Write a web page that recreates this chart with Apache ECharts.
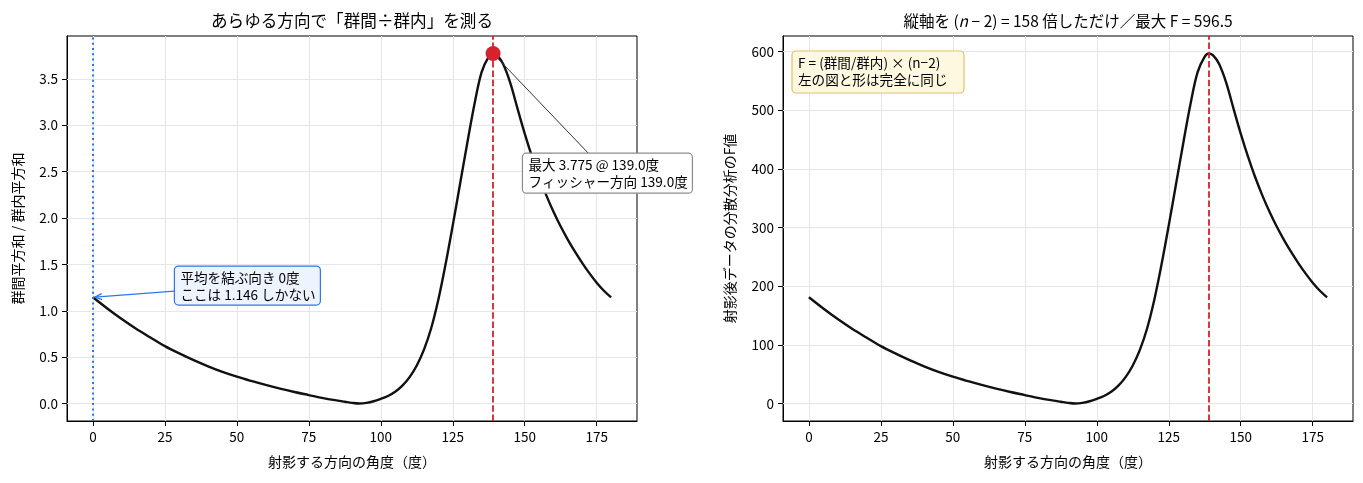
<!DOCTYPE html>
<html lang="ja">
<head>
<meta charset="UTF-8"/>
<title>群間÷群内</title>
<script src="https://cdn.jsdelivr.net/npm/echarts@6/dist/echarts.min.js"></script>
<style>
    html, body { margin: 0; padding: 0; background: #fff; }
    #main { width: 1363px; height: 483px; }
</style>
</head>
<body>
<div id="main"></div>
<script type="text/javascript">
    // 角度（度）と 群間平方和/群内平方和 の比
    var angles = [0, 5, 10, 15, 20, 25, 30, 35, 40, 45, 50, 55, 60, 65, 70, 75, 80, 85,
        87.5, 90, 92.5, 95, 97.5, 100, 102.5, 105, 107.5, 110, 112.5, 115, 117.5, 120,
        122.5, 125, 127.5, 130, 132.5, 135, 137.5, 139, 140.5, 142.5, 145, 147.5, 150,
        152.5, 155, 157.5, 160, 162.5, 165, 167.5, 170, 172.5, 175, 177.5, 180];
    var ratio = [1.146, 1.025, 0.911, 0.807, 0.712, 0.620, 0.541, 0.468, 0.402, 0.342,
        0.290, 0.244, 0.201, 0.161, 0.125, 0.092, 0.059, 0.032,
        0.020, 0.008, 0.001, 0.008, 0.025, 0.051, 0.082, 0.127, 0.193, 0.285, 0.411, 0.582,
        0.812, 1.122, 1.502, 1.922, 2.362, 2.802, 3.222, 3.572, 3.742, 3.775, 3.752, 3.661,
        3.456, 3.180, 2.911, 2.665, 2.443, 2.245, 2.068, 1.909, 1.766, 1.635, 1.515, 1.404,
        1.304, 1.217, 1.146];

    var angleTicks = [0, 25, 50, 75, 100, 125, 150, 175];
    var ratioTicks = [0, 0.5, 1.0, 1.5, 2.0, 2.5, 3.0, 3.5];
    var fTicks = [0, 100, 200, 300, 400, 500, 600];

    var N_MINUS_2 = 158;
    var PEAK_ANGLE = 139.0, PEAK_RATIO = 3.775;
    var START_RATIO = 1.146;

    var FONT = '"Noto Sans CJK JP", "Noto Sans", sans-serif';
    var RED = '#d7222e', BLUE = '#2d77ea';

    var fValues = ratio.map(function (v) { return v * N_MINUS_2; });

    function pad(lo, hi) {
        var p = (hi - lo) * 0.05;
        return [lo - p, hi + p];
    }
    var xr = pad(0, 180);
    var yr0 = pad(Math.min.apply(null, ratio), Math.max.apply(null, ratio));
    var yr1 = pad(Math.min.apply(null, fValues), Math.max.apply(null, fValues));

    function pairs(ys) {
        return angles.map(function (a, i) { return [a, ys[i]]; });
    }

    function xAxis(idx) {
        return {
            type: 'value', gridIndex: idx, min: xr[0], max: xr[1],
            name: '射影する方向の角度（度）', nameLocation: 'middle', nameGap: 34,
            nameTextStyle: {fontSize: 14, color: '#000', fontFamily: FONT},
            axisLine: {onZero: false, lineStyle: {color: '#000', width: 1}},
            axisTick: {customValues: angleTicks, length: 5, lineStyle: {color: '#000', width: 1}},
            axisLabel: {customValues: angleTicks, margin: 9, fontSize: 13.5, color: '#000', fontFamily: FONT},
            splitLine: {show: false}
        };
    }

    function yAxis(idx, range, ticks, name, gap) {
        return {
            type: 'value', gridIndex: idx, min: range[0], max: range[1],
            name: name, nameLocation: 'middle', nameGap: gap, nameRotate: 90,
            nameTextStyle: {fontSize: 14, color: '#000', fontFamily: FONT},
            axisLine: {show: true, onZero: false, lineStyle: {color: '#000', width: 1}},
            axisTick: {show: true, customValues: ticks, length: 5, lineStyle: {color: '#000', width: 1}},
            axisLabel: {
                customValues: ticks, margin: 9, fontSize: 13.5, color: '#000', fontFamily: FONT,
                formatter: function (v) { return ticks === ratioTicks ? v.toFixed(1) : String(v); }
            },
            splitLine: {show: false}
        };
    }

    // 目盛り位置の薄いグリッド線
    function gridMarks(xt, yt) {
        return {
            silent: true, symbol: 'none', z: 1, animation: false,
            label: {show: false},
            lineStyle: {color: '#e6e6e6', width: 1, type: 'solid'},
            data: xt.map(function (v) { return {xAxis: v}; })
                .concat(yt.map(function (v) { return {yAxis: v}; }))
        };
    }

    function curve(idx, ys) {
        return {
            type: 'line', xAxisIndex: idx, yAxisIndex: idx, data: pairs(ys),
            showSymbol: false, smooth: 0.35, z: 3,
            lineStyle: {color: '#111', width: 2.4}
        };
    }

    var redLine = {xAxis: PEAK_ANGLE, lineStyle: {color: RED, width: 1.8, type: [6.5, 2.8]}};
    var blueLine = {xAxis: 0, lineStyle: {color: BLUE, width: 2, type: [2, 3.3]}};

    var option = {
        animation: false,
        grid: [
            {left: 67, right: 726, top: 36, bottom: 62, show: true, borderColor: '#000', borderWidth: 1},
            {left: 783, right: 10, top: 36, bottom: 62, show: true, borderColor: '#000', borderWidth: 1}
        ],
        xAxis: [xAxis(0), xAxis(1)],
        yAxis: [
            yAxis(0, yr0, ratioTicks, '群間平方和 / 群内平方和', 42),
            yAxis(1, yr1, fTicks, '射影後データの分散分析のF値', 46)
        ],
        series: [
            {type: 'line', xAxisIndex: 0, yAxisIndex: 0, data: [], markLine: gridMarks(angleTicks, ratioTicks)},
            {type: 'line', xAxisIndex: 1, yAxisIndex: 1, data: [], markLine: gridMarks(angleTicks, fTicks)},
            curve(0, ratio),
            curve(1, fValues),
            {
                type: 'line', xAxisIndex: 0, yAxisIndex: 0, data: [], z: 4,
                markLine: {silent: true, symbol: 'none', z: 4, label: {show: false}, data: [blueLine, redLine]}
            },
            {
                type: 'line', xAxisIndex: 1, yAxisIndex: 1, data: [], z: 4,
                markLine: {silent: true, symbol: 'none', z: 4, label: {show: false}, data: [redLine]}
            },
            {
                type: 'scatter', xAxisIndex: 0, yAxisIndex: 0, z: 6,
                data: [[PEAK_ANGLE, PEAK_RATIO]], symbolSize: 15,
                itemStyle: {color: RED, opacity: 1}
            }
        ]
    };

    var myChart = echarts.init(document.getElementById('main'));
    myChart.setOption(option);

    // 注釈（位置はデータ座標から計算）
    function px(g, p) { return myChart.convertToPixel({gridIndex: g}, p); }
    var p0 = px(0, [0, START_RATIO]);
    var pk = px(0, [PEAK_ANGLE, PEAK_RATIO]);
    var b1 = px(0, [28.3, 1.483]);
    var b2 = px(0, [149.2, 2.70]);
    var b3 = [783 + 9, 36 + 15];
    var B1 = {w: 146, h: 39}, B2 = {w: 170, h: 40}, B3 = {w: 172, h: 42};

    function box(pos, sz, fill, stroke, text) {
        return [{
            type: 'rect', z: 100,
            shape: {x: pos[0], y: pos[1], width: sz.w, height: sz.h, r: 4},
            style: {fill: fill, stroke: stroke, lineWidth: 1.2}
        }, {
            type: 'text', z: 101, x: pos[0] + 6, y: pos[1] + 3,
            style: {
                text: text, fill: '#000', fontSize: 13.6, fontFamily: FONT, lineHeight: 17,
                textAlign: 'left', textVerticalAlign: 'top', align: 'left', verticalAlign: 'top'
            }
        }];
    }

    // 箱の中心から点へ向かう線が箱の縁を横切る位置
    function edgeStart(pos, sz, target, side) {
        var cx = pos[0] + sz.w / 2, cy = pos[1] + sz.h / 2, t;
        if (side === 'left') t = (cx - pos[0]) / (cx - target[0]);
        else t = (cy - pos[1]) / (cy - target[1]);
        return [cx + t * (target[0] - cx), cy + t * (target[1] - cy)];
    }
    function shrink(from, to, d) {
        var dx = to[0] - from[0], dy = to[1] - from[1], L = Math.sqrt(dx * dx + dy * dy);
        return [to[0] - dx / L * d, to[1] - dy / L * d];
    }

    var s1 = edgeStart(b1, B1, p0, 'left');
    var e1 = shrink(s1, p0, 2);
    var ux = (e1[0] - s1[0]), uy = (e1[1] - s1[1]), ul = Math.sqrt(ux * ux + uy * uy);
    ux /= ul; uy /= ul;
    var head = [
        [e1[0] - 7 * ux - 3 * uy, e1[1] - 7 * uy + 3 * ux],
        e1,
        [e1[0] - 7 * ux + 3 * uy, e1[1] - 7 * uy - 3 * ux]
    ];

    var s2 = edgeStart(b2, B2, pk, 'top');
    var e2 = shrink(s2, pk, 7.5);

    function title(x, text, size, rich) {
        return {
            type: 'text', z: 100, x: x, y: 21,
            style: {
                text: text, fill: '#000', fontSize: size, fontFamily: FONT,
                textAlign: 'center', textVerticalAlign: 'middle', align: 'center', verticalAlign: 'middle',
                rich: rich
            }
        };
    }

    var graphics = [
        title(352, 'あらゆる方向で「群間÷群内」を測る', 16.6),
        title(1068, '縦軸を ({i|n} − 2) = 158 倍しただけ／最大 F = 596.5', 15.5, {
            i: {fontStyle: 'italic', fontSize: 15.5, fontFamily: FONT, fill: '#000'}
        }),
        {type: 'line', z: 99, shape: {x1: s1[0], y1: s1[1], x2: e1[0], y2: e1[1]}, style: {stroke: BLUE, lineWidth: 1.3}},
        {type: 'polyline', z: 99, shape: {points: head}, style: {stroke: BLUE, lineWidth: 1.3, fill: null}},
        {type: 'line', z: 99, shape: {x1: s2[0], y1: s2[1], x2: e2[0], y2: e2[1]}, style: {stroke: '#333', lineWidth: 1}}
    ].concat(
        box(b1, B1, '#eef4ff', BLUE, '平均を結ぶ向き 0度\nここは 1.146 しかない'),
        box(b2, B2, '#ffffff', '#8c8c8c', '最大 3.775 @ 139.0度\nフィッシャー方向 139.0度'),
        box(b3, B3, '#fff8e1', '#e2c06c', 'F = (群間/群内) × (n−2)\n左の図と形は完全に同じ')
    );

    myChart.setOption({graphic: {elements: graphics}});
</script>
</body>
</html>
